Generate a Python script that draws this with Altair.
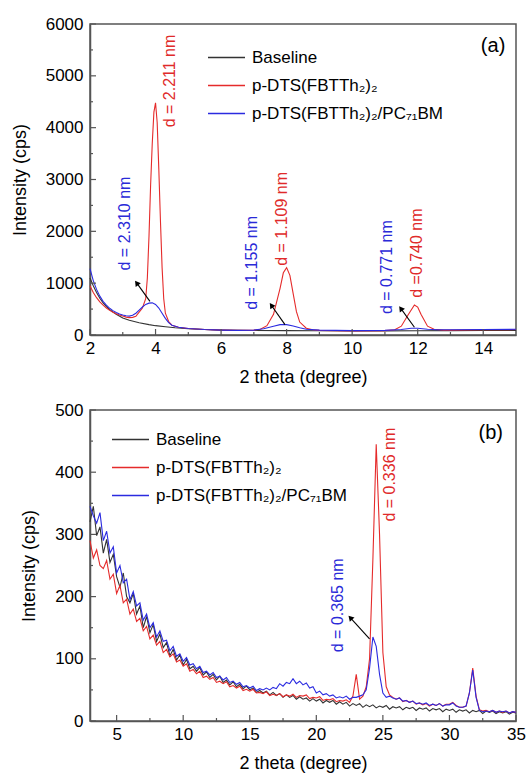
import altair as alt
import pandas as pd

FONT = "Liberation Sans"
SERIES = ["Baseline", "p-DTS(FBTTh₂)₂", "p-DTS(FBTTh₂)₂/PC₇₁BM"]
LINE_COLORS = ["#333333", "#e52b2b", "#2b2be0"]
RED_TXT = "#e02a2a"
BLUE_TXT = "#2a2ad8"
FRAME = "#555555"

# ---------------- panel (a) data ----------------
a_base_x = [2.0, 2.1, 2.2, 2.3, 2.4, 2.5, 2.6, 2.8, 3.0, 3.2, 3.5, 3.8, 4.0, 4.3, 4.6, 5.0,
            5.5, 6.0, 7.0, 8.0, 9.0, 10.0, 11.0, 12.0, 13.0, 14.0, 15.0]
a_base_y = [1100, 950, 820, 710, 620, 550, 490, 400, 330, 285, 235, 200, 180, 160, 140, 120,
            105, 95, 88, 85, 82, 80, 80, 82, 85, 88, 90]

a_red_x = [2.0, 2.1, 2.2, 2.3, 2.4, 2.5, 2.6, 2.7, 2.8, 2.9, 3.0, 3.1, 3.2, 3.3, 3.4, 3.5, 3.6,
           3.7, 3.75, 3.8, 3.85, 3.9, 3.95, 4.0, 4.05, 4.1, 4.15, 4.2, 4.25, 4.3,
           4.4, 4.5, 4.7, 5.0, 5.5, 6.0, 6.5, 7.0,
           7.2, 7.4, 7.6, 7.8, 7.9, 8.0, 8.1, 8.2, 8.3, 8.4, 8.6, 8.8, 9.0,
           10.0, 11.0, 11.3, 11.5, 11.7, 11.9, 12.0, 12.1, 12.3, 12.5, 12.8, 13.0, 14.0, 15.0]
a_red_y = [950, 820, 720, 640, 575, 520, 475, 440, 410, 385, 365, 345, 335, 340, 360, 440, 520,
           700, 1100, 1900, 2900, 3700, 4300, 4480, 4100, 3200, 2200, 1300, 700, 420,
           260, 190, 150, 125, 105, 95, 90, 95,
           110, 180, 400, 900, 1200, 1300, 1150, 800, 450, 250, 130, 100, 90,
           80, 85, 100, 170, 380, 580, 540, 400, 170, 110, 95, 95, 100, 105]

a_blue_x = [2.0, 2.1, 2.2, 2.3, 2.4, 2.5, 2.6, 2.7, 2.8, 2.9, 3.0, 3.1, 3.2, 3.3, 3.4, 3.5, 3.6,
            3.7, 3.8, 3.9, 4.0, 4.1, 4.2, 4.3, 4.4, 4.5,
            4.7, 5.0, 5.5, 6.0, 6.5, 7.0,
            7.3, 7.6, 7.8, 8.0, 8.2, 8.4, 8.6, 9.0,
            10.0, 11.0, 11.5, 11.8, 12.0, 12.3, 12.6, 13.0, 14.0, 15.0]
a_blue_y = [1280, 1050, 880, 750, 650, 575, 515, 470, 435, 405, 385, 370, 365, 380, 420, 480, 540,
            590, 615, 620, 590, 520, 420, 320, 240, 190,
            150, 125, 105, 95, 90, 95,
            120, 170, 200, 200, 175, 140, 110, 95,
            85, 90, 105, 130, 130, 110, 100, 100, 105, 110]

a_lbl_text = ["d = 2.211 nm", "d = 2.310 nm", "d = 1.155 nm", "d = 1.109 nm", "d = 0.771 nm", "d =0.740 nm"]
a_lbl_x = [4.45, 3.07, 6.95, 7.87, 11.05, 11.97]
a_lbl_y = [4900, 2150, 1390, 2240, 1310, 1580]
a_lbl_col = [RED_TXT, BLUE_TXT, BLUE_TXT, RED_TXT, BLUE_TXT, RED_TXT]

a_arr_x = [3.83, 7.95, 11.9]
a_arr_y = [650, 200, 150]
a_arr_x2 = [3.44, 7.55, 11.5]
a_arr_y2 = [990, 560, 500]
a_arr_ang = [324, 325, 324]

a_xmaj = [2, 4, 6, 8, 10, 12, 14]
a_xmin = [3, 5, 7, 9, 11, 13]
a_ymaj = [0, 1000, 2000, 3000, 4000, 5000, 6000]
a_ymin = [500, 1500, 2500, 3500, 4500, 5500]

# ---------------- panel (b) data ----------------
b_x = [3.0, 3.25, 3.5, 3.75, 4.0, 4.25, 4.5, 4.75, 5.0, 5.25, 5.5, 5.75,
       6.0, 6.25, 6.5, 6.75, 7.0, 7.25, 7.5, 7.75, 8.0, 8.25, 8.5, 8.75,
       9.0, 9.25, 9.5, 9.75, 10.0, 10.25, 10.5, 10.75, 11.0, 11.25, 11.5, 11.75,
       12.0, 12.25, 12.5, 12.75, 13.0, 13.25, 13.5, 13.75, 14.0, 14.25, 14.5, 14.75,
       15.0, 15.25, 15.5, 15.75, 16.0, 16.25, 16.5, 16.75, 17.0, 17.25, 17.5, 17.75,
       18.0, 18.25, 18.5, 18.75, 19.0, 19.25, 19.5, 19.75, 20.0, 20.25, 20.5, 20.75,
       21.0, 21.25, 21.5, 21.75, 22.0, 22.25, 22.5, 22.75, 23.0, 23.25, 23.5, 23.75,
       24.0, 24.25, 24.5, 24.75, 25.0, 25.25, 25.5, 25.75, 26.0, 26.25, 26.5, 26.75,
       27.0, 27.25, 27.5, 27.75, 28.0, 28.25, 28.5, 28.75, 29.0, 29.25, 29.5, 29.75,
       30.0, 30.25, 30.5, 30.75, 31.0, 31.25, 31.5, 31.75, 32.0, 32.25, 32.5, 32.75,
       33.0, 33.25, 33.5, 33.75, 34.0, 34.25, 34.5, 34.75, 35.0]

b_base_y = [320, 345, 298, 312, 270, 292, 255, 268, 232, 215, 238, 200,
            190, 205, 172, 185, 150, 168, 142, 155, 128, 140, 118, 126,
            105, 115, 98, 106, 90, 99, 84, 88, 80, 86, 74, 79,
            70, 75, 66, 72, 62, 66, 58, 63, 55, 59, 52, 56,
            50, 53, 46, 49, 45, 48, 42, 46, 41, 44, 38, 42,
            38, 41, 35, 39, 35, 37, 32, 36, 32, 35, 29, 33,
            30, 33, 27, 31, 27, 30, 24, 28, 25, 28, 22, 26,
            23, 26, 21, 24, 22, 25, 19, 23, 21, 23, 18, 22,
            20, 22, 17, 21, 19, 21, 16, 20, 18, 20, 15, 19,
            17, 19, 14, 18, 16, 18, 13, 17, 15, 17, 12, 16,
            14, 16, 12, 15, 13, 15, 11, 14, 13]

b_red_y = [290, 262, 275, 250, 245, 258, 228, 236, 205, 218, 190, 196,
           172, 180, 160, 165, 145, 152, 132, 138, 122, 128, 110, 115,
           103, 108, 95, 98, 88, 92, 80, 83, 76, 80, 70, 72,
           67, 70, 62, 64, 60, 63, 55, 57, 53, 56, 49, 51,
           48, 51, 45, 46, 44, 47, 41, 43, 41, 44, 39, 42,
           40, 43, 38, 41, 40, 42, 36, 38, 37, 39, 33, 35,
           34, 36, 31, 33, 32, 34, 30, 40, 75, 35, 40, 55,
           100, 260, 445, 300, 110, 55, 42, 38, 35, 37, 31, 33,
           30, 32, 27, 29, 26, 28, 24, 27, 25, 28, 24, 27,
           27, 30, 25, 22, 22, 24, 45, 85, 40, 18, 16, 17,
           15, 17, 14, 16, 14, 16, 13, 15, 14]

b_blue_y = [345, 330, 318, 335, 290, 305, 270, 280, 238, 250, 222, 228,
            195, 208, 185, 190, 162, 172, 150, 158, 135, 145, 128, 130,
            113, 120, 104, 108, 96, 102, 90, 92, 84, 88, 78, 80,
            74, 78, 70, 72, 66, 70, 62, 64, 59, 62, 55, 57,
            53, 56, 49, 52, 50, 53, 50, 54, 52, 60, 56, 62,
            60, 68, 60, 64, 58, 61, 53, 55, 45, 48, 42, 44,
            40, 42, 37, 39, 37, 40, 35, 38, 38, 40, 42, 50,
            85, 135, 120, 75, 45, 38, 40, 37, 35, 37, 32, 33,
            30, 32, 28, 29, 27, 29, 25, 27, 25, 28, 24, 26,
            26, 29, 24, 22, 22, 24, 45, 82, 38, 17, 15, 16,
            15, 17, 14, 16, 15, 16, 13, 15, 14]

b_lbl_text = ["d = 0.336 nm", "d = 0.365 nm"]
b_lbl_x = [25.5, 21.6]
b_lbl_y = [396, 186]
b_lbl_col = [RED_TXT, BLUE_TXT]

b_arr_x = [24.0]
b_arr_y = [132]
b_arr_x2 = [22.6]
b_arr_y2 = [165]
b_arr_ang = [318]

b_xmaj = [5, 10, 15, 20, 25, 30, 35]
b_xmin = [7.5, 12.5, 17.5, 22.5, 27.5, 32.5]
b_ymaj = [0, 100, 200, 300, 400, 500]
b_ymin = [50, 150, 250, 350, 450]

W, H = 426, 311


def panel(lines, xdom, ydom, xmaj, xmin, ymaj, ymin, lbl, arr, letter, letter_xy, leg_xy):
    xs = alt.Scale(domain=xdom, nice=False, zero=False)
    ys = alt.Scale(domain=ydom, nice=False, zero=False)
    xaxis = alt.Axis(values=xmaj, title="2 theta (degree)", ticks=False, grid=False,
                     labelFlush=False, labelOverlap=False, labelPadding=5, titlePadding=12,
                     domainColor=FRAME, domainWidth=1.5, labelFontSize=17, titleFontSize=18,
                     labelFont=FONT, titleFont=FONT, labelColor="black", titleColor="black",
                     titleFontWeight="normal", format="d")
    yaxis = alt.Axis(values=ymaj, title="Intensity (cps)", ticks=False, grid=False,
                     labelFlush=False, labelOverlap=False, labelPadding=7, titlePadding=16,
                     domainColor=FRAME, domainWidth=1.5, labelFontSize=17, titleFontSize=18,
                     labelFont=FONT, titleFont=FONT, labelColor="black", titleColor="black",
                     titleFontWeight="normal", format="d")
    leg = alt.Legend(title=None, orient="none", legendX=leg_xy[0], legendY=leg_xy[1],
                     symbolType="stroke", symbolSize=1369, symbolStrokeWidth=1.3,
                     labelFont=FONT, labelFontSize=17, labelColor="black", rowPadding=-1,
                     padding=0, labelOffset=6, symbolOpacity=1, labelLimit=0)
    color = alt.Color("series:N", scale=alt.Scale(domain=SERIES, range=LINE_COLORS), legend=leg)

    def X(f):
        return alt.X(f, scale=xs, axis=xaxis)

    def Y(f):
        return alt.Y(f, scale=ys, axis=yaxis)

    layers = []
    for s, xv, yv in lines:
        df = pd.DataFrame({"x": xv, "y": yv, "series": s})
        layers.append(
            alt.Chart(df).mark_line(strokeWidth=1.1).encode(
                x=X("x:Q"), y=Y("y:Q"), color=color, order=alt.Order("x:Q"))
        )

    # inner tick marks
    def xt(vals, ln):
        return alt.Chart(pd.DataFrame({"x": vals})).mark_rule(color=FRAME, strokeWidth=1.2).encode(
            x=X("x:Q"), y=alt.value(H), y2=alt.value(H - ln))

    def yt(vals, ln):
        return alt.Chart(pd.DataFrame({"y": vals})).mark_rule(color=FRAME, strokeWidth=1.2).encode(
            y=Y("y:Q"), x=alt.value(0), x2=alt.value(ln))

    layers += [xt(xmaj, 6), xt(xmin, 3), yt(ymaj, 6), yt(ymin, 3)]

    ldf = pd.DataFrame({"x": lbl[0], "y": lbl[1], "t": lbl[2], "c": lbl[3]})
    layers.append(
        alt.Chart(ldf).mark_text(angle=270, align="center", baseline="middle", font=FONT, fontSize=16).encode(
            x=X("x:Q"), y=Y("y:Q"), text="t:N", color=alt.Color("c:N", scale=None))
    )

    adf = pd.DataFrame({"x": arr[0], "y": arr[1], "x2": arr[2], "y2": arr[3], "a": arr[4]})
    layers.append(
        alt.Chart(adf).mark_rule(color="black", strokeWidth=1.1).encode(
            x=X("x:Q"), y=Y("y:Q"), x2="x2:Q", y2="y2:Q")
    )
    layers.append(
        alt.Chart(adf).mark_point(shape="triangle", filled=True, size=40, color="black", opacity=1).encode(
            x=X("x2:Q"), y=Y("y2:Q"), angle=alt.Angle("a:Q", scale=None))
    )

    tdf = pd.DataFrame({"x": [letter_xy[0]], "y": [letter_xy[1]], "t": [letter]})
    layers.append(
        alt.Chart(tdf).mark_text(align="center", baseline="middle", font=FONT, fontSize=20, color="black").encode(
            x=X("x:Q"), y=Y("y:Q"), text="t:N")
    )

    return alt.layer(*layers).properties(width=W, height=H)


top = panel(
    [(SERIES[0], a_base_x, a_base_y), (SERIES[1], a_red_x, a_red_y), (SERIES[2], a_blue_x, a_blue_y)],
    [2, 15], [0, 6000], a_xmaj, a_xmin, a_ymaj, a_ymin,
    (a_lbl_x, a_lbl_y, a_lbl_text, a_lbl_col),
    (a_arr_x, a_arr_y, a_arr_x2, a_arr_y2, a_arr_ang),
    "(a)", (14.3, 5580), (117, 14))

bottom = panel(
    [(SERIES[0], b_x, b_base_y), (SERIES[1], b_x, b_red_y), (SERIES[2], b_x, b_blue_y)],
    [3, 35], [0, 500], b_xmaj, b_xmin, b_ymaj, b_ymin,
    (b_lbl_x, b_lbl_y, b_lbl_text, b_lbl_col),
    (b_arr_x, b_arr_y, b_arr_x2, b_arr_y2, b_arr_ang),
    "(b)", (33.1, 463), (21, 10))

chart = alt.vconcat(top, bottom, spacing=75, bounds="flush").resolve_legend(
    color="independent"
).properties(
    padding={"left": 10, "top": 14, "right": 0, "bottom": 2}
).configure_view(stroke=FRAME, strokeWidth=1.5)

chart.save("out.html", embed_options={"renderer": "svg", "actions": False})
